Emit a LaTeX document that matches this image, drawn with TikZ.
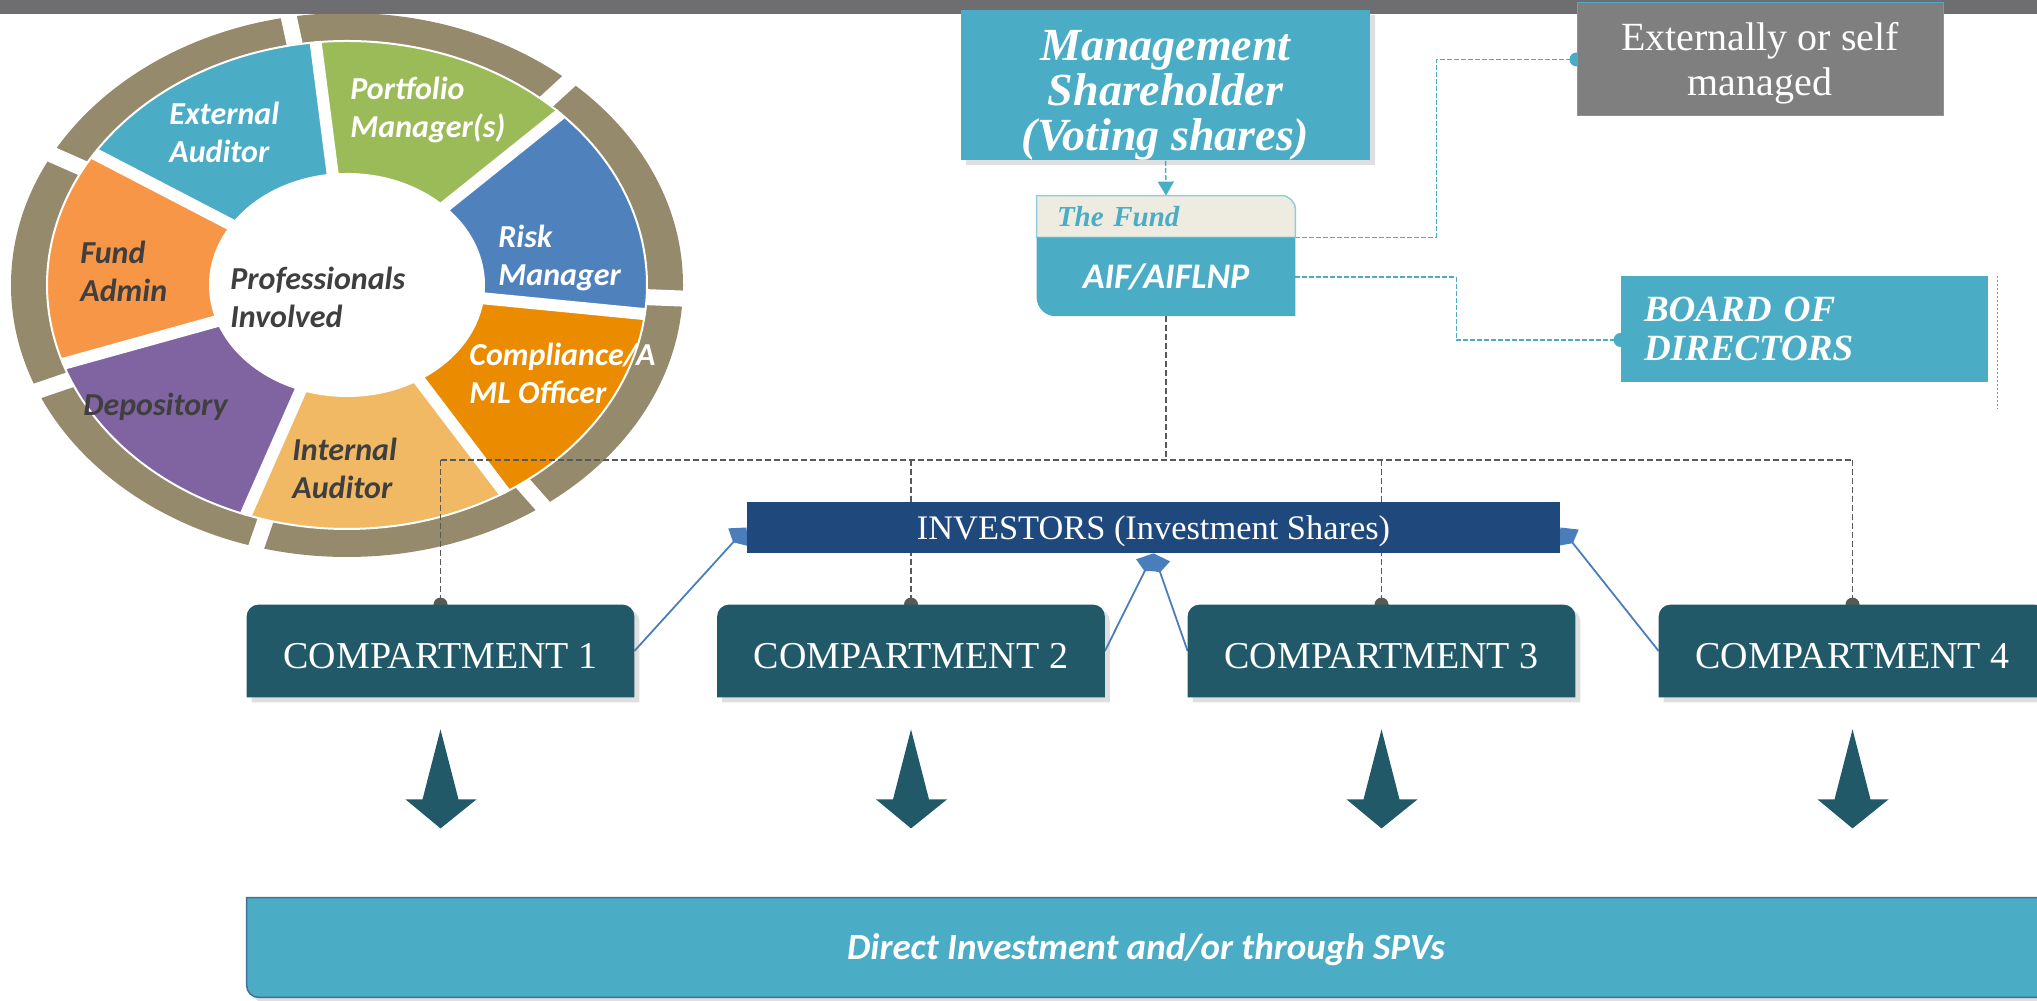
\documentclass[tikz,border=0pt]{standalone}
\usepackage{fontspec}
\setmainfont{Liberation Serif}
\newfontfamily\calfont{Carlito}
\usetikzlibrary{positioning,arrows.meta,shadows}

\definecolor{topbar}{HTML}{6E6E70}
\definecolor{ringbrown}{HTML}{958A6C}
\definecolor{extaudcol}{HTML}{4BACC6}
\definecolor{portmgrcol}{HTML}{9BBB59}
\definecolor{riskmgrcol}{HTML}{4F81BD}
\definecolor{complcol}{HTML}{EA8B00}
\definecolor{intaudcol}{HTML}{F2B964}
\definecolor{depocol}{HTML}{8064A2}
\definecolor{fundadmcol}{HTML}{F79646}
\definecolor{darktext}{HTML}{3F3F3F}
\definecolor{fundblue}{HTML}{4BACC6}
\definecolor{headbeige}{HTML}{EEECE1}
\definecolor{headedge}{HTML}{93CDDD}
\definecolor{extgray}{HTML}{7F7F7F}
\definecolor{invblue}{HTML}{1F497D}
\definecolor{compteal}{HTML}{215968}
\definecolor{arrowblue}{HTML}{4A7EBB}
\definecolor{linkgray}{HTML}{595959}
\definecolor{spvedge}{HTML}{3F7096}

\pgfdeclarelayer{ringlayer}
\pgfdeclarelayer{linklayer}
\pgfdeclarelayer{boxlayer}
\pgfsetlayers{ringlayer,linklayer,boxlayer,main}

\tikzset{
  softshadow/.style={drop shadow={opacity=0.25, shadow xshift=2.5pt, shadow yshift=-2.5pt}},
  ringtext/.style={anchor=west, inner sep=0pt, align=left,
    font=\calfont\bfseries\itshape\fontsize{16}{19}\selectfont},
  mgmtbox/.style={fill=fundblue, text=white, minimum width=204.5pt, minimum height=73pt,
    inner sep=0pt, align=center, softshadow,
    font=\bfseries\itshape\fontsize{23}{22.5}\selectfont},
  fundhead/.style={text width=109pt, inner xsep=10pt, inner ysep=0pt, minimum height=20.5pt,
    align=left, text=fundblue, font=\bfseries\itshape\fontsize{14.5}{16}\selectfont},
  fundbody/.style={minimum width=129pt, minimum height=39pt, inner sep=0pt, text=white,
    font=\calfont\bfseries\itshape\fontsize{18}{20}\selectfont},
  extbox/.style={fill=extgray, draw=fundblue, line width=0.5pt, text=white,
    minimum width=183pt, minimum height=56.5pt, inner sep=0pt, align=center,
    font=\fontsize{20}{22.5}\selectfont},
  boardbox/.style={fill=fundblue, text=white, text width=160.5pt, inner xsep=11.5pt,
    inner ysep=0pt, minimum height=53pt, align=left,
    font=\bfseries\itshape\fontsize{18.5}{19.5}\selectfont},
  invbox/.style={fill=invblue, text=white, minimum width=406.5pt, minimum height=25.5pt,
    inner sep=0pt, text height=15.9pt, text depth=3.7pt, font=\fontsize{17.2}{18}\selectfont},
  compbox/.style={minimum width=193.5pt, minimum height=46pt, inner sep=0pt, text=white,
    text height=17.5pt, text depth=0pt, font=\fontsize{19}{21}\selectfont},
  spvbox/.style={minimum width=899pt, minimum height=49.5pt, inner sep=0pt, text=white,
    text height=15.9pt, text depth=3.7pt,
    font=\calfont\bfseries\itshape\fontsize{18.5}{20}\selectfont},
  bluedash/.style={draw=fundblue, line width=0.75pt, dash pattern=on 2.5pt off 1pt},
  bluedot/.style={draw=fundblue, line width=0.75pt, dash pattern=on 1pt off 1pt},
  trunk/.style={draw=linkgray, line width=0.75pt, dash pattern=on 3pt off 1.5pt},
  invarrow/.style={draw=arrowblue, line width=0.9pt,
    -{Kite[length=10pt, width=13pt, inset=3.5pt]}},
  dotend/.style={-{Circle[length=7pt]}, shorten >=-3.5pt}
}

\begin{document}
\begin{tikzpicture}[x=0.5pt, y=0.5pt]
\useasboundingbox (0,0) rectangle (2037,1000);

% ring of professionals
\begin{pgfonlayer}{ringlayer}
\begin{scope}[shift={(347,715)}]
  \fill[ringbrown] (0,0) ellipse [x radius=168pt, y radius=136pt];
  \foreach \a in {100,48.57,-2.86,-54.29,-105.71,-157.14,151.43}
    \draw[white, line width=8pt] (0,0) -- (\a:175pt and 142pt);
  \foreach \a/\b/\c in {96/147.43/extaudcol, 44.57/96/portmgrcol, -6.86/44.57/riskmgrcol,
      -58.29/-6.86/complcol, -109.71/-58.29/intaudcol, -161.14/-109.71/depocol,
      147.43/198.86/fundadmcol}
    \path[fill=\c, draw=white, line width=1pt] (0,0) -- (\a:150pt and 122pt)
      arc[start angle=\a, end angle=\b, x radius=150pt, y radius=122pt] -- cycle;
  \foreach \a in {96,44.57,-6.86,-58.29,-109.71,-161.14,147.43}
    \draw[white, line width=6pt] (0,0) -- (\a:150pt and 122pt);
  \fill[white] (0,0) ellipse [x radius=69pt, y radius=56pt];
\end{scope}
\fill[topbar] (0,986) rectangle (2037,1000);
\end{pgfonlayer}

\node[ringtext, text=white] (extaud) at (169,868) {External\\Auditor};
\node[ringtext, text=white] (portmgr) at (350,890) {Portfolio\\Manager(s)};
\node[ringtext, text=white] (riskmgr) at (498,742) {Risk\\Manager};
\node[ringtext, text=darktext] (fundadm) at (80,729) {Fund\\Admin};
\node[ringtext, text=darktext] (prof) at (230,703) {Professionals\\Involved};
\node[ringtext, text=white] (compl) at (469,627) {Compliance/A\\ML Officer};
\node[ringtext, text=darktext, anchor=base west] (depo) at (83,584) {Depository};
\node[ringtext, text=darktext] (intaud) at (292,532) {Internal\\Auditor};

% fund structure
\node[mgmtbox] (mgmt) at (1165.5,915) {\rule{0pt}{25.5pt}Management\\Shareholder\\(Voting shares)};
\node[fundhead] (fundhead) at (1166,783.5) {The Fund};
\node[fundbody, below=0pt of fundhead] (fundbody) {AIF/AIFLNP};
\node[extbox] (extman) at (1760,940.5) {\rule{0pt}{18pt}Externally or self\\managed};
\node[boardbox] (board) at (1804.5,671) {BOARD OF\\DIRECTORS};
\node[invbox] (inv) at (1153.5,472.5) {INVESTORS (Investment Shares)};
\foreach \i/\x in {1/440.5,2/911,3/1381.5,4/1852.5}
  \node[compbox] (comp\i) at (\x,349) {COMPARTMENT \i};
\node[spvbox] (spv) at (1146,52.5) {Direct Investment and/or through SPVs};

\begin{pgfonlayer}{boxlayer}
\path[fill=headbeige, draw=headedge, line width=0.75pt] (fundhead.south west) -- (fundhead.north west)
  -- ([xshift=-7pt]fundhead.north east) arc[start angle=90, end angle=0, radius=7pt]
  -- (fundhead.south east) -- cycle;
\fill[fundblue] (fundbody.north west) -- ([yshift=9.5pt]fundbody.south west)
  arc[start angle=180, end angle=270, radius=9.5pt] -- (fundbody.south east)
  -- (fundbody.north east) -- cycle;
\foreach \i in {1,...,4} {
  \fill[compteal, softshadow] (comp\i.south west) -- ([yshift=-6pt]comp\i.north west)
    arc[start angle=180, end angle=90, radius=6pt] -- ([xshift=-6pt]comp\i.north east)
    arc[start angle=90, end angle=0, radius=6pt] -- (comp\i.south east) -- cycle;
  \fill[compteal] ([yshift=-16pt]comp\i.south) -- ++(9pt,-35pt) -- ++(9pt,0pt)
    -- ++(-18pt,-14.5pt) -- ++(-17.5pt,14.5pt) -- ++(8.5pt,0pt) -- cycle;
}
\path[fill=fundblue, draw=spvedge, line width=0.75pt, softshadow] (spv.north west)
  -- ([yshift=6pt]spv.south west) arc[start angle=180, end angle=270, radius=6pt]
  -- (spv.south east) -- (spv.north east) -- cycle;
\end{pgfonlayer}

\begin{pgfonlayer}{linklayer}
\draw[bluedash, -{Triangle[length=7pt, width=8pt]}] (mgmt.south) -- (fundhead.north);
\draw[bluedash, dotend] (fundhead.south east) -- ++(141,0) |- (extman.west);
\draw[bluedash, dotend] (fundbody.east) -- ++(161,0) |- ([yshift=-5.5pt]board.west);
\draw[bluedot] ([xshift=4.5pt]board.north east) -- ++(0,-133);
\draw[trunk] (fundbody.south) -- ++(0,-144) coordinate (hub);
\draw[trunk] (comp1.north |- hub) -- (comp4.north |- hub);
\foreach \i in {1,...,4}
  \draw[trunk, dotend] (comp\i.north |- hub) -- (comp\i.north);
\draw[invarrow] (comp1.east) -- (inv.west);
\draw[invarrow] (comp2.east) -- (inv.south);
\draw[invarrow] (comp3.west) -- (inv.south);
\draw[invarrow] (comp4.west) -- (inv.east);
\end{pgfonlayer}
\end{tikzpicture}
\end{document}
